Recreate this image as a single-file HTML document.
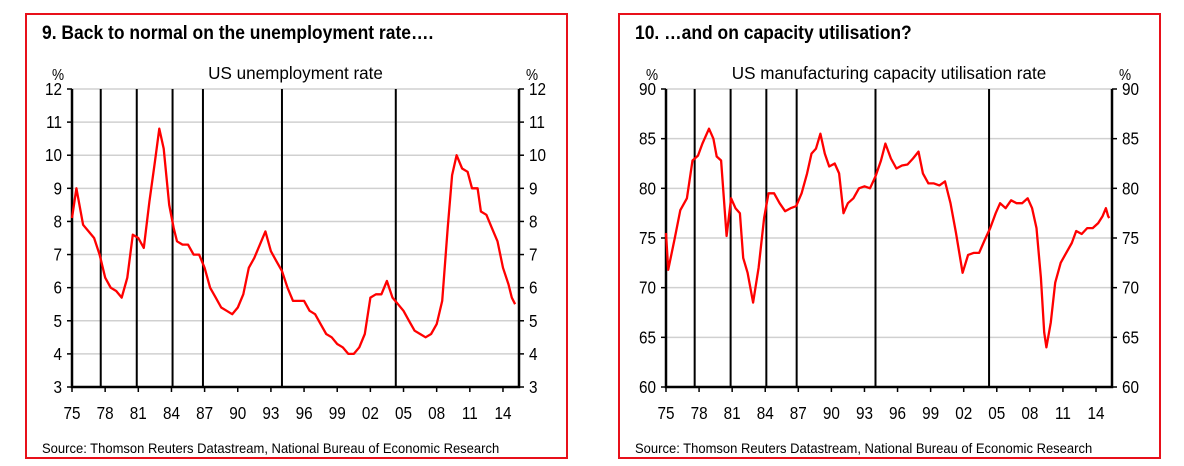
<!DOCTYPE html>
<html><head><meta charset="utf-8"><style>
body{margin:0;background:#fff;width:1184px;height:466px;overflow:hidden}
svg{display:block}
text{font-family:"Liberation Sans Narrow","Liberation Sans",sans-serif;fill:#000}
</style></head><body>
<svg id="s" width="1184" height="466"></svg>
<script>
const NS="http://www.w3.org/2000/svg";
const unX=[1975.0,1975.4,1976.0,1976.5,1977.0,1977.5,1978.0,1978.5,1979.0,1979.5,1980.0,1980.5,1981.0,1981.5,1982.0,1982.5,1982.9,1983.3,1983.8,1984.2,1984.5,1985.0,1985.5,1986.0,1986.5,1987.0,1987.5,1988.0,1988.5,1989.0,1989.5,1990.0,1990.5,1991.0,1991.5,1992.0,1992.5,1993.0,1993.5,1994.0,1994.5,1995.0,1995.5,1996.0,1996.5,1997.0,1997.5,1998.0,1998.5,1999.0,1999.5,2000.0,2000.5,2001.0,2001.5,2002.0,2002.5,2003.0,2003.5,2004.0,2004.5,2005.0,2005.5,2006.0,2006.5,2007.0,2007.5,2008.0,2008.5,2009.0,2009.4,2009.8,2010.3,2010.8,2011.2,2011.7,2012.0,2012.5,2013.0,2013.5,2014.0,2014.5,2014.8,2015.1];
const unV=[8.1,9.0,7.9,7.7,7.5,7.0,6.3,6.0,5.9,5.7,6.3,7.6,7.5,7.2,8.6,9.8,10.8,10.2,8.5,7.8,7.4,7.3,7.3,7.0,7.0,6.6,6.0,5.7,5.4,5.3,5.2,5.4,5.8,6.6,6.9,7.3,7.7,7.1,6.8,6.5,6.0,5.6,5.6,5.6,5.3,5.2,4.9,4.6,4.5,4.3,4.2,4.0,4.0,4.2,4.6,5.7,5.8,5.8,6.2,5.7,5.5,5.3,5.0,4.7,4.6,4.5,4.6,4.9,5.6,7.8,9.4,10.0,9.6,9.5,9.0,9.0,8.3,8.2,7.8,7.4,6.6,6.1,5.7,5.5];
const cuX=[1975.0,1975.2,1975.8,1976.3,1976.9,1977.4,1977.9,1978.3,1978.9,1979.3,1979.6,1980.0,1980.5,1980.9,1981.3,1981.7,1982.0,1982.4,1982.9,1983.4,1983.9,1984.3,1984.8,1985.3,1985.8,1986.3,1986.8,1987.3,1987.8,1988.2,1988.6,1989.0,1989.4,1989.8,1990.3,1990.7,1991.1,1991.5,1992.0,1992.5,1993.0,1993.5,1994.0,1994.5,1994.9,1995.4,1995.9,1996.4,1996.9,1997.4,1997.9,1998.3,1998.8,1999.3,1999.8,2000.3,2000.8,2001.3,2001.9,2002.4,2002.9,2003.4,2003.9,2004.4,2004.9,2005.3,2005.8,2006.3,2006.8,2007.3,2007.8,2008.2,2008.6,2009.0,2009.3,2009.5,2009.9,2010.3,2010.8,2011.3,2011.8,2012.2,2012.7,2013.2,2013.7,2014.2,2014.6,2014.9,2015.1,2015.2];
const cuV=[75.5,71.8,75,77.8,79,82.8,83.3,84.5,86,85,83.2,82.8,75.2,79,78.0,77.5,73,71.5,68.5,72,77,79.5,79.5,78.5,77.7,78.0,78.2,79.5,81.5,83.5,84.0,85.5,83.5,82.2,82.5,81.5,77.5,78.5,79.0,80.0,80.2,80.0,81.2,82.8,84.5,83.0,82.0,82.3,82.4,83.0,83.7,81.5,80.5,80.5,80.3,80.7,78.5,75.5,71.5,73.3,73.5,73.5,74.8,76.0,77.5,78.5,78.0,78.8,78.5,78.5,79.0,78.0,76.0,71.0,65.5,64.0,66.5,70.5,72.5,73.5,74.5,75.7,75.4,76.0,76.0,76.5,77.2,78.0,77.2,77.0];
const recessions=[1977.6,1980.86,1984.1,1986.85,1994.0,2004.3];
const xTicks=["75","78","81","84","87","90","93","96","99","02","05","08","11","14"];
const unTicks=[3,4,5,6,7,8,9,10,11,12];
const cuTicks=[60,65,70,75,80,85,90];
const svg=document.getElementById('s');
function el(t,a,p){const e=document.createElementNS(NS,t);for(const k in a)e.setAttribute(k,a[k]);(p||svg).appendChild(e);return e;}
function txt(p,x,y,s,size,anchor,bold,sx){
  const g=el('g',{transform:`translate(${x},${y}) scale(${sx||0.8},1)`},p);
  const t=el('text',{x:0,y:0,'font-size':size,'text-anchor':anchor||'start','font-weight':bold?'bold':'normal'},g);
  t.textContent=s;return t;
}
function panel(o){
  const g=el('g',{});
  
  
  const fr=el('rect',{x:o.fx,y:14,width:o.fw,height:444,fill:'none',stroke:'#e8101a','stroke-width':2},g);
  
  const tt=txt(g,o.fx+16,39,o.title,19,'start',true,0.92);
  
  const L=o.L,R=o.R,T=89,B=387;
  const X=y=>L+(y-1975)/(40.45)*(R-L);
  const Y=v=>B-(v-o.min)/(o.max-o.min)*(B-T);
  const st=txt(g,(L+R)/2,79,o.sub,18,'middle',false,0.95);
  
  const p1=txt(g,L-20,80,'%',16,'start',false,0.85);
  
  const p2=txt(g,R+7,80,'%',16,'start',false,0.85);
  
  o.ticks.forEach(v=>{
    const y=Y(v);
    if(v!==o.min){const gl=el('line',{x1:L,x2:R,y1:y,y2:y,stroke:'#d0d0d0','stroke-width':1.5},g);
      }
    el('line',{x1:L-5,x2:L,y1:y,y2:y,stroke:'#000','stroke-width':1.5},g);
    el('line',{x1:R,x2:R+5,y1:y,y2:y,stroke:'#000','stroke-width':1.5},g);
    const a=txt(g,L-10,y+6,String(v),18,'end',false,0.85);
    
    const b=txt(g,R+10,y+6,String(v),18,'start',false,0.85);
    
  });
  recessions.forEach(r=>{const l=el('line',{x1:X(r),x2:X(r),y1:T,y2:B,stroke:'#000','stroke-width':2},g);
    });
  xTicks.forEach((t,i)=>{const x=X(1975+3*i);
    el('line',{x1:x,x2:x,y1:B,y2:B+5,stroke:'#000','stroke-width':1.5},g);
    const a=txt(g,x,419,t,18,'middle',false,0.85);
    });
  const ax=el('path',{d:`M${L},${T}V${B}H${R}V${T}`,fill:'none',stroke:'#000','stroke-width':2.5},g);
  
  const d=o.xs.map((x,i)=>(i?'L':'M')+X(x).toFixed(1)+','+Y(o.vs[i]).toFixed(1)).join('');
  const ln=el('path',{d:d,fill:'none',stroke:'#ff0000','stroke-width':2.3,'stroke-linejoin':'round'},g);
  
  const src=txt(g,o.fx+16,453,'Source: Thomson Reuters Datastream, National Bureau of Economic Research',14,'start',false,0.93);
  
}
panel({name:'unemployment-panel',fx:26,fw:541,L:72,R:519,min:3,max:12,ticks:unTicks,xs:unX,vs:unV,line:'unemployment-line',
  title:'9. Back to normal on the unemployment rate….',sub:'US unemployment rate'});
panel({name:'capacity-panel',fx:619,fw:541,L:666,R:1112,min:60,max:90,ticks:cuTicks,xs:cuX,vs:cuV,line:'capacity-line',
  title:'10. …and on capacity utilisation?',sub:'US manufacturing capacity utilisation rate'});
</script>
</body></html>
